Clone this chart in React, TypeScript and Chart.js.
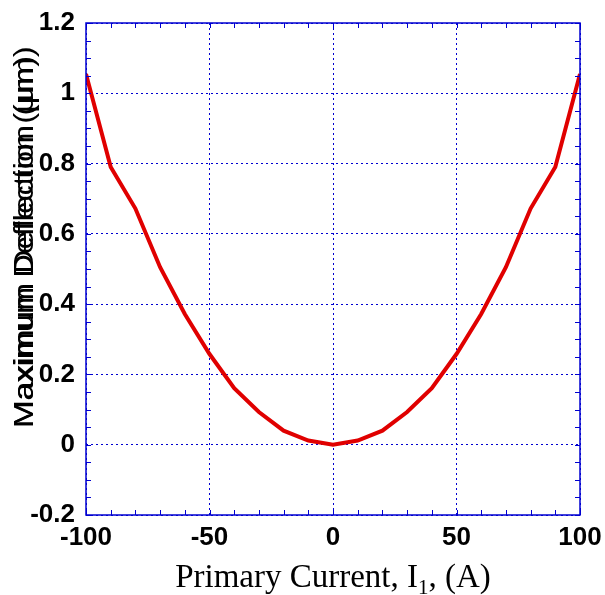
import React, { useEffect, useRef } from "react";
import { Chart, registerables } from "chart.js";

Chart.register(...registerables);

const currents = [-100, -90, -80, -70, -60, -50, -40, -30, -20, -10, 0, 10, 20, 30, 40, 50, 60, 70, 80, 90, 100];
const deflections = [1.055, 0.79, 0.672, 0.505, 0.372, 0.258, 0.161, 0.093, 0.04, 0.012, 0, 0.012, 0.04, 0.093, 0.161, 0.258, 0.372, 0.505, 0.672, 0.79, 1.055];
const xMin = -100, xMax = 100, xStep = 50, xMinor = 10;
const yMin = -0.2, yMax = 1.2, yStep = 0.2, yMinor = 0.05;
const yTitle = "Maximum Deflection (μm)";
const xTitleMain = "Primary Current, I";
const xTitleSub = "1";
const xTitleEnd = ", (A)";

const BLUE = "#0000d0";

const framePlugin = {
  id: "frame",
  afterDraw(chart: any) {
    const { ctx, chartArea: a, scales } = chart;
    const xs = scales.x, ys = scales.y;
    ctx.save();
    ctx.strokeStyle = BLUE;
    ctx.lineWidth = 1.5;
    ctx.setLineDash([]);
    ctx.strokeRect(a.left, a.top, a.right - a.left, a.bottom - a.top);
    ctx.lineWidth = 1;
    const tl = 5;
    ctx.beginPath();
    for (let v = xMin; v <= xMax + 1e-9; v += xMinor) {
      const px = Math.round(xs.getPixelForValue(v)) + 0.5;
      ctx.moveTo(px, a.bottom); ctx.lineTo(px, a.bottom - tl);
      ctx.moveTo(px, a.top); ctx.lineTo(px, a.top + tl);
    }
    for (let i = 0; yMin + i * yMinor <= yMax + 1e-9; i++) {
      const v = yMin + i * yMinor;
      const py = Math.round(ys.getPixelForValue(v)) + 0.5;
      ctx.moveTo(a.left, py); ctx.lineTo(a.left + tl, py);
      ctx.moveTo(a.right, py); ctx.lineTo(a.right - tl, py);
    }
    ctx.stroke();

    // Y title (drawn twice, slightly different widths, as in the reference)
    ctx.fillStyle = "#000";
    const drawY = (len: number) => {
      ctx.save();
      ctx.font = "28px 'Liberation Sans', Arial, sans-serif";
      const w = ctx.measureText(yTitle).width;
      ctx.translate(33, 428);
      ctx.rotate(-Math.PI / 2);
      ctx.scale(len / w, 1);
      ctx.textAlign = "left";
      ctx.textBaseline = "alphabetic";
      ctx.fillText(yTitle, 0, 0);
      ctx.restore();
    };
    drawY(372);
    drawY(382);

    // X title with subscript
    ctx.save();
    const big = "33px 'Liberation Serif', 'Times New Roman', serif";
    const small = "21px 'Liberation Serif', 'Times New Roman', serif";
    ctx.font = big;
    const w1 = ctx.measureText(xTitleMain).width;
    const w3 = ctx.measureText(xTitleEnd).width;
    ctx.font = small;
    const w2 = ctx.measureText(xTitleSub).width;
    const total = w1 + w2 + w3;
    const cx = (a.left + a.right) / 2;
    let x0 = cx - total / 2;
    const base = 587;
    ctx.textBaseline = "alphabetic";
    ctx.textAlign = "left";
    ctx.font = big;
    ctx.fillText(xTitleMain, x0, base);
    ctx.font = small;
    ctx.fillText(xTitleSub, x0 + w1, base + 7);
    ctx.font = big;
    ctx.fillText(xTitleEnd, x0 + w1 + w2, base);
    ctx.restore();
    ctx.restore();
  },
};

export default function App() {
  const ref = useRef<HTMLCanvasElement>(null);
  useEffect(() => {
    if (!ref.current) return;
    const tickFont = { family: "'Liberation Sans', Arial, sans-serif", size: 26, weight: "bold" as const };
    const chart = new Chart(ref.current, {
      type: "line",
      data: {
        datasets: [
          {
            data: currents.map((c, i) => ({ x: c, y: deflections[i] })),
            borderColor: "#e00000",
            borderWidth: 4,
            pointRadius: 0,
            tension: 0,
            fill: false,
          },
        ],
      },
      options: {
        animation: false,
        responsive: false,
        maintainAspectRatio: false,
        layout: { padding: { left: 0, top: 23, right: 25, bottom: 0 } },
        plugins: { legend: { display: false }, tooltip: { enabled: false } },
        scales: {
          x: {
            type: "linear",
            min: xMin,
            max: xMax,
            afterFit: (s: any) => { s.height = 80; s.paddingLeft = 0; s.paddingRight = 0; },
            ticks: { stepSize: xStep, color: "#000", font: tickFont, padding: 7, maxRotation: 0 },
            grid: { color: BLUE, lineWidth: 1, drawTicks: false } as any,
            border: { display: false, dash: [2, 3] },
          },
          y: {
            type: "linear",
            min: yMin,
            max: yMax,
            afterFit: (s: any) => { s.width = 86; s.paddingTop = 0; s.paddingBottom = 0; },
            ticks: {
              stepSize: yStep,
              color: "#000",
              font: tickFont,
              padding: 11,
              callback: (v: any) => String(Math.round(Number(v) * 10) / 10),
            },
            grid: { color: BLUE, lineWidth: 1, drawTicks: false } as any,
            border: { display: false, dash: [2, 3] },
          },
        },
      },
      plugins: [framePlugin],
    });
    return () => chart.destroy();
  }, []);
  return (
    <div style={{ position: "absolute", left: 0, top: 0, width: 605, height: 595, background: "#fff" }}>
      <canvas ref={ref} width={605} height={595} style={{ display: "block" }} />
    </div>
  );
}
